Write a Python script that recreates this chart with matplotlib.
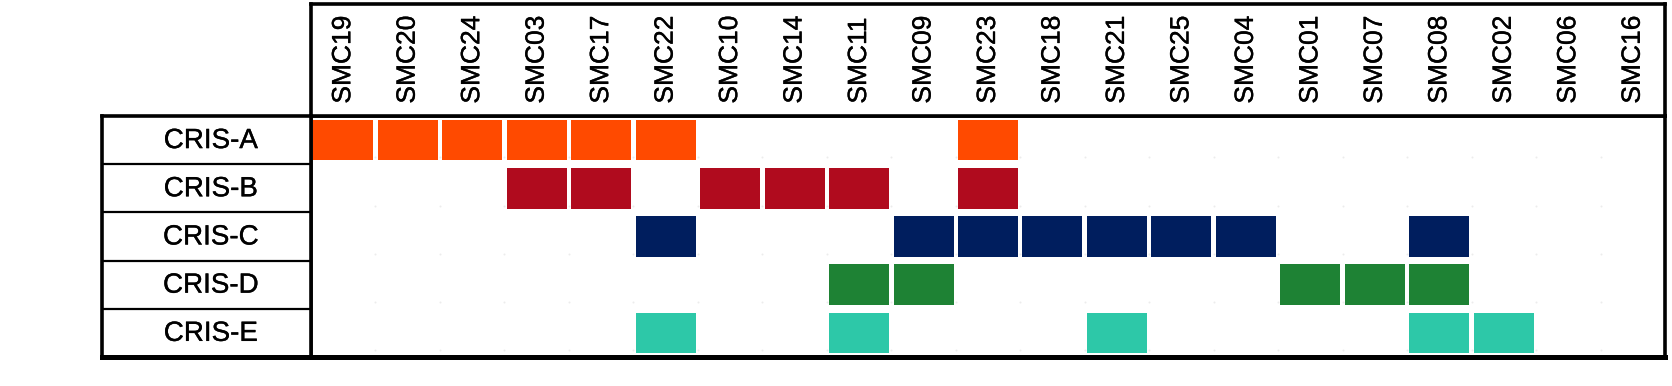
import numpy as np
import matplotlib
matplotlib.use('Agg')
from matplotlib import pyplot as plt
from matplotlib.patches import Rectangle
import matplotlib.transforms as mtransforms
import matplotlib.patheffects as pe

samples = ['SMC19', 'SMC20', 'SMC24', 'SMC03', 'SMC17', 'SMC22', 'SMC10',
           'SMC14', 'SMC11', 'SMC09', 'SMC23', 'SMC18', 'SMC21', 'SMC25',
           'SMC04', 'SMC01', 'SMC07', 'SMC08', 'SMC02', 'SMC06', 'SMC16']
classes = ['CRIS-A', 'CRIS-B', 'CRIS-C', 'CRIS-D', 'CRIS-E']

cris_a = ['SMC19', 'SMC20', 'SMC24', 'SMC03', 'SMC17', 'SMC22', 'SMC23']
cris_b = ['SMC03', 'SMC17', 'SMC10', 'SMC14', 'SMC11', 'SMC23']
cris_c = ['SMC22', 'SMC09', 'SMC23', 'SMC18', 'SMC21', 'SMC25', 'SMC04', 'SMC08']
cris_d = ['SMC11', 'SMC09', 'SMC01', 'SMC07', 'SMC08']
cris_e = ['SMC22', 'SMC11', 'SMC21', 'SMC08', 'SMC02']
members = [cris_a, cris_b, cris_c, cris_d, cris_e]

colors = ['#FF4A00', '#B00B1E', '#001E5E', '#1E8234', '#2DC8A8']

W, H = 1672, 386
fig = plt.figure(figsize=(W / 100, H / 100), dpi=100)


def px_axes(left, top, right, bottom):
    # axes placed by pixel box of the 1672x386 picture
    return fig.add_axes([left / W, 1 - bottom / H, (right - left) / W, (bottom - top) / H])


ax_grid = px_axes(311, 116, 1665, 357)
ax_head = px_axes(311, 3.5, 1665, 116)
ax_left = px_axes(102, 116, 311, 357)

nrow, ncol = len(classes), len(samples)

# faint grid dots
gx, gy = np.meshgrid(np.arange(1, ncol), np.arange(nrow) + 0.86)
ax_grid.scatter(gx.ravel(), gy.ravel(), s=2, color='#ececec', linewidths=0, zorder=1)

# membership grid
for r, (cls, col) in enumerate(zip(classes, colors)):
    for s in members[r]:
        c = samples.index(s)
        ax_grid.add_patch(Rectangle((c + 0.5 - 0.465, r + 0.5 - 0.42), 0.93, 0.84,
                                    facecolor=col, edgecolor='none', zorder=2))
ax_grid.set_xlim(0, ncol)
ax_grid.set_ylim(nrow, 0)

# slightly heavier text, like the original render
bold = [pe.withStroke(linewidth=0.25, foreground='black')]

# column header
trans = mtransforms.blended_transform_factory(ax_head.transData, ax_head.transAxes)
ax_head.set_xlim(0, ncol)
for i, s in enumerate(samples):
    ax_head.text(i + 0.5, 0.11, s, transform=trans, rotation=90,
                 ha='center', va='bottom', fontsize=19,
                 family='Liberation Sans', path_effects=bold)

# row labels
ax_left.set_ylim(nrow, 0)
ax_left.set_xlim(0, 1)
for r, cls in enumerate(classes):
    ax_left.text(0.52, r + 0.52, cls, ha='center', va='center',
                 fontsize=20, family='Liberation Sans', path_effects=bold)
for r in range(1, nrow):
    ax_left.axhline(r, color='black', linewidth=1.6)

for ax in (ax_grid, ax_head, ax_left):
    ax.set_xticks([])
    ax.set_yticks([])
    for sp in ax.spines.values():
        sp.set_linewidth(2.6)
        sp.set_color('black')
ax_grid.spines['bottom'].set_linewidth(3.6)
ax_left.spines['bottom'].set_linewidth(3.6)

plt.savefig('out.png', dpi=100)
